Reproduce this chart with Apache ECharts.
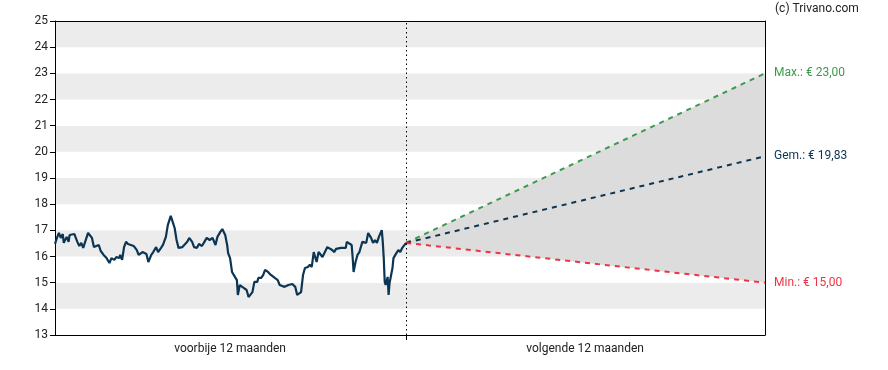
<!DOCTYPE html>
<html>
<head>
<meta charset="utf-8">
<script src="https://cdn.jsdelivr.net/npm/echarts@6/dist/echarts.min.js"></script>
<style>html,body{margin:0;padding:0;background:#fff}#c{width:888px;height:370px}</style>
</head>
<body>
<div id="c"></div>
<script>
// Past 12 months: day index and closing price
var pastDays = [0,2,4,6,8,9,12,14,15,20,21,23,25,27,29,31,34,36,38,40,42,45,47,50,51,53,56,58,61,63,66,67,69,71,73,75,77,81,84,86,88,90,94,96,99,101,104,106,109,111,114,116,119,121,123,125,127,131,133,136,138,141,143,146,148,151,153,156,159,162,165,167,170,172,175,177,178,180,182,185,187,188,190,192,194,197,199,203,205,208,209,212,214,216,219,221,223,226,229,231,233,236,240,242,244,247,249,251,253,255,257,260,262,264,266,269,271,275,277,280,282,285,287,289,291,294,296,299,300,302,305,306,307,309,311,313,316,318,320,322,325,327,329,331,333,336,337,338,339,340,342,343,344,347,348,351,353,355,357,359,361];
var pastPrices = [16.48,16.71,16.90,16.71,16.86,16.52,16.75,16.56,16.82,16.86,16.75,16.56,16.40,16.52,16.33,16.56,16.90,16.94,16.71,16.36,16.33,16.44,16.21,16.06,16.13,15.94,15.75,15.94,15.87,15.98,15.94,16.06,15.87,16.36,16.56,16.48,16.48,16.40,16.25,16.06,16.10,16.17,16.10,15.79,16.06,16.17,16.36,16.17,16.33,16.44,16.75,17.20,17.55,17.32,17.09,16.63,16.33,16.36,16.33,16.56,16.71,16.56,16.36,16.33,16.48,16.40,16.52,16.71,16.63,16.71,16.44,16.75,16.94,17.05,16.82,16.44,16.13,15.94,15.41,15.22,15.10,14.53,14.91,14.84,14.80,14.72,14.45,14.64,15.03,15.03,15.18,15.18,15.29,15.49,15.41,15.33,15.29,15.18,15.10,14.91,14.91,14.84,14.91,14.84,14.95,14.84,14.53,14.49,14.64,15.29,15.56,15.60,15.68,15.60,16.17,15.79,16.17,15.98,16.13,16.36,16.36,16.25,16.17,16.29,16.25,16.33,16.36,16.33,16.56,16.63,16.44,15.98,15.41,15.79,16.06,16.17,16.56,16.63,16.52,16.90,16.71,16.52,16.63,16.52,16.75,17.01,16.56,15.94,15.03,14.91,15.22,14.53,14.99,15.56,15.94,16.13,16.25,16.17,16.33,16.33,16.52];

// Forecast (next 12 months)
var todayDay = 361;
var endDay = 730;
var forecastNames = ['Max.', 'Gem.', 'Min.'];
var forecastTargets = [23.00, 19.83, 15.00];
var forecastColors = ['#3c9a4e', '#0d3552', '#ee3344'];

// Axis labels
var periodLabels = ['voorbije 12 maanden', 'volgende 12 maanden'];
var periodLabelDays = [180, 545];
var yMin = 13, yMax = 25;
var copyrightText = '(c) Trivano.com';

var startPrice = pastPrices[pastPrices.length - 1];
function fmt(v){ return v.toFixed(2).replace('.', ','); }

var pastData = pastDays.map(function(d, i){ return [d, pastPrices[i]]; });

var maxV = forecastTargets[0], minV = forecastTargets[2];

var series = [
  {
    name: 'band', type: 'custom', silent: true, z: 1,
    data: [[todayDay, startPrice, endDay, maxV, minV]],
    renderItem: function(params, api){
      var p0 = api.coord([api.value(0), api.value(1)]);
      var p1 = api.coord([api.value(2), api.value(3)]);
      var p2 = api.coord([api.value(2), api.value(4)]);
      return { type: 'polygon', shape: { points: [p0, p1, p2] }, style: { fill: '#dcdcdc' } };
    }
  }
];

forecastTargets.forEach(function(t, i){
  series.push({
    name: forecastNames[i], type: 'line', symbol: 'none', silent: true, z: 3,
    data: [[todayDay, startPrice], [endDay, t]],
    lineStyle: { color: forecastColors[i], width: 2, type: [5, 5] },
    endLabel: {
      show: true, distance: 9,
      formatter: forecastNames[i] + ': € ' + fmt(t),
      color: forecastColors[i], fontFamily: 'Roboto', fontSize: 12
    }
  });
});

series.push({
  name: 'Koers', type: 'line', symbol: 'none', silent: true, z: 4,
  data: pastData,
  lineStyle: { color: '#0b3553', width: 2.2 },
  markLine: {
    silent: true, symbol: ['none', 'none'], label: { show: false },
    lineStyle: { color: '#000', type: [1.5, 3], width: 1 },
    data: [{ xAxis: todayDay }]
  }
});

var chart = echarts.init(document.getElementById('c'), null, { renderer: 'canvas' });
chart.setOption({
  animation: false,
  backgroundColor: '#fff',
  grid: { left: 55, right: 123, top: 21, bottom: 35 },
  graphic: [{
    type: 'text', left: 775, top: 3,
    style: { text: copyrightText, fill: '#222', font: '12px Roboto' }
  }],
  xAxis: [{
    type: 'value', min: 0, max: endDay,
    axisLine: { show: true, lineStyle: { color: '#000' } },
    axisTick: { show: true, customValues: [todayDay], length: 5, lineStyle: { color: '#000' } },
    axisLabel: {
      customValues: periodLabelDays, color: '#222', fontFamily: 'Roboto', fontSize: 12, margin: 8,
      formatter: function(v){ return v < todayDay ? periodLabels[0] : periodLabels[1]; }
    },
    splitLine: { show: false }
  }, {
    type: 'value', min: 0, max: endDay, position: 'top',
    axisLine: { show: true, onZero: false, lineStyle: { color: '#000' } },
    axisTick: { show: false }, axisLabel: { show: false }, splitLine: { show: false }
  }],
  yAxis: [{
    type: 'value', min: yMin, max: yMax, interval: 1,
    axisLine: { show: true, lineStyle: { color: '#000' } },
    axisTick: { show: true, length: 5, lineStyle: { color: '#000' } },
    axisLabel: { color: '#222', fontFamily: 'Roboto', fontSize: 12, margin: 7 },
    splitLine: { show: false },
    splitArea: { show: true, areaStyle: { color: ['#ffffff', '#ececec'] } }
  }, {
    type: 'value', min: yMin, max: yMax, interval: 1, position: 'right',
    axisLine: { show: true, onZero: false, lineStyle: { color: '#000' } },
    axisTick: { show: false }, axisLabel: { show: false }, splitLine: { show: false }
  }],
  series: series
});
</script>
</body>
</html>
